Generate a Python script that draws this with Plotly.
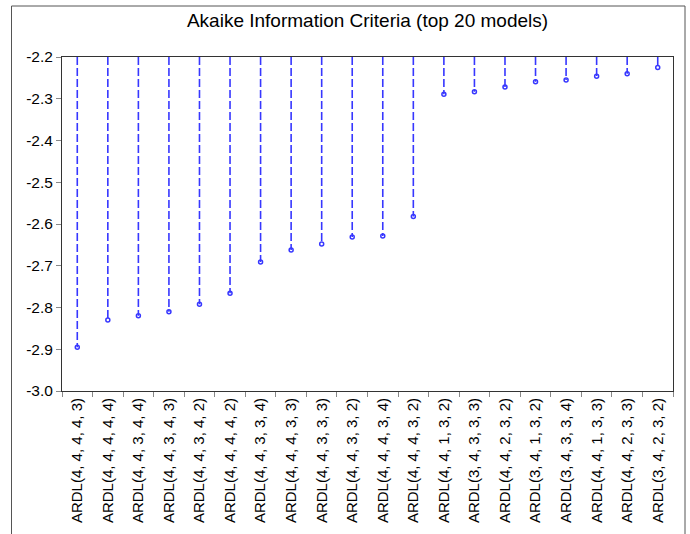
import plotly.graph_objects as go

models = [
    "ARDL(4, 4, 4, 4, 3)", "ARDL(4, 4, 4, 4, 4)", "ARDL(4, 4, 3, 4, 4)", "ARDL(4, 4, 3, 4, 3)",
    "ARDL(4, 4, 3, 4, 2)", "ARDL(4, 4, 4, 4, 2)", "ARDL(4, 4, 3, 3, 4)", "ARDL(4, 4, 4, 3, 3)",
    "ARDL(4, 4, 3, 3, 3)", "ARDL(4, 4, 3, 3, 2)", "ARDL(4, 4, 4, 3, 4)", "ARDL(4, 4, 4, 3, 2)",
    "ARDL(4, 4, 1, 3, 2)", "ARDL(3, 4, 3, 3, 3)", "ARDL(4, 4, 2, 3, 2)", "ARDL(3, 4, 1, 3, 2)",
    "ARDL(3, 4, 3, 3, 4)", "ARDL(4, 4, 1, 3, 3)", "ARDL(4, 4, 2, 3, 3)", "ARDL(3, 4, 2, 3, 2)",
]
aic = [
    -2.895, -2.830, -2.820, -2.810, -2.792, -2.766, -2.691, -2.662, -2.648, -2.631,
    -2.629, -2.582, -2.289, -2.283, -2.272, -2.259, -2.255, -2.246, -2.240, -2.225,
]
y_tick_vals = [-3.0, -2.9, -2.8, -2.7, -2.6, -2.5, -2.4, -2.3, -2.2]
y_tick_text = ["-3.0", "-2.9", "-2.8", "-2.7", "-2.6", "-2.5", "-2.4", "-2.3", "-2.2"]
y_top = -2.2
y_bottom = -3.0

line_x, line_y = [], []
for m, v in zip(models, aic):
    line_x += [m, m, None]
    line_y += [y_top, v, None]

blue = "rgb(55,55,255)"
fig = go.Figure()
fig.add_trace(go.Scatter(x=line_x, y=line_y, mode="lines",
                         line=dict(color=blue, width=1.6, dash="8px,3px"),
                         hoverinfo="skip", showlegend=False))
fig.add_trace(go.Scatter(x=models, y=aic, mode="markers",
                         marker=dict(color=blue, size=4, symbol="circle-open",
                                     line=dict(color=blue, width=1.5)),
                         showlegend=False))

font = "Liberation Sans, Arial, sans-serif"
fig.update_layout(
    width=690, height=534,
    margin=dict(l=62, r=17, t=57, b=143, autoexpand=False),
    paper_bgcolor="white", plot_bgcolor="white",
    title=dict(text="Akaike Information Criteria (top 20 models)",
               x=(62 + 673) / 2 / 690, xanchor="center", y=1 - 20 / 534, yanchor="middle",
               font=dict(family=font, size=19, color="black")),
    font=dict(family=font, color="black"),
    xaxis=dict(type="category", categoryorder="array", categoryarray=models,
               range=[-0.5, 19.5], showline=True, linecolor="#333", linewidth=1,
               mirror=True, showgrid=False, zeroline=False, automargin=False,
               ticks="outside", ticklen=5, tickcolor="#888", tickson="boundaries",
               tickangle=-90, tickfont=dict(family=font, size=15, color="black")),
    yaxis=dict(range=[y_bottom, y_top], tickmode="array",
               tickvals=y_tick_vals, ticktext=y_tick_text,
               showline=True, linecolor="#333", linewidth=1, mirror=True,
               showgrid=False, zeroline=False, automargin=False,
               ticks="outside", ticklen=5, tickcolor="#888",
               tickfont=dict(family=font, size=15.5, color="black")),
    shapes=[dict(type="rect", xref="paper", yref="paper",
                 x0=(11.5 - 62) / 611, x1=(685 - 62) / 611,
                 y0=-0.6, y1=(391 - 6) / 334,
                 line=dict(color="#555", width=1), fillcolor="rgba(0,0,0,0)", layer="below")],
)
fig.write_html("out.html", config={"displayModeBar": False},
               post_script="document.body.style.margin='0';document.body.style.overflow='hidden';")
